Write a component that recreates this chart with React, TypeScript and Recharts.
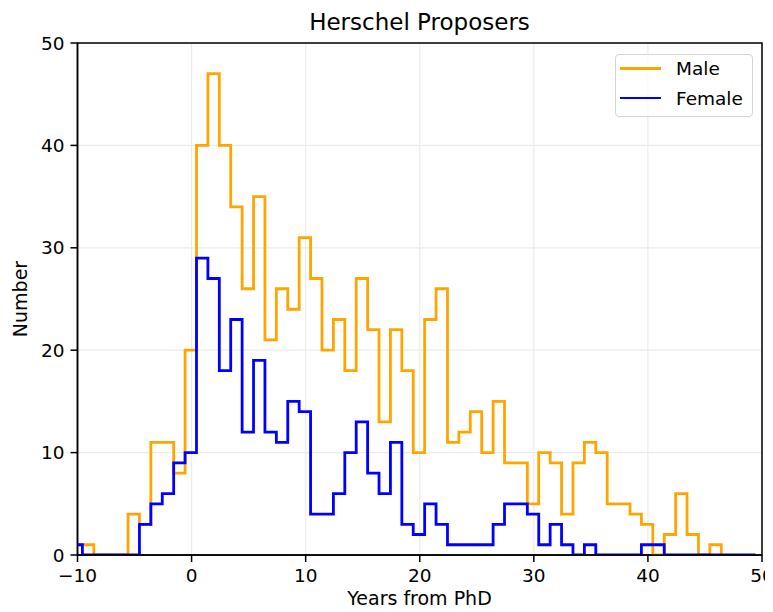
import React from "react";
import { LineChart, Line, XAxis, YAxis, CartesianGrid, ReferenceArea } from "recharts";

// histogram bins: 1 year wide, first left edge
const BIN_START = -10.57;
const BIN_WIDTH = 1;

const maleCounts = [
  1, 1, 0, 0, 0, 4, 3, 11, 11, 8,
  20, 40, 47, 40, 34, 26, 35, 21, 26, 24,
  31, 27, 20, 23, 18, 27, 22, 13, 22, 18,
  10, 23, 26, 11, 12, 14, 10, 15, 9, 9,
  5, 10, 9, 4, 9, 11, 10, 5, 5, 4,
  3, 0, 2, 6, 2, 0, 1,
];
const femaleCounts = [
  1, 0, 0, 0, 0, 0, 3, 5, 6, 9,
  10, 29, 27, 18, 23, 12, 19, 12, 11, 15,
  14, 4, 4, 6, 10, 13, 8, 6, 11, 3,
  2, 5, 3, 1, 1, 1, 1, 3, 5, 5,
  4, 1, 3, 1, 0, 1, 0, 0, 0, 0,
  1, 1, 0, 0, 0, 0, 0, 0, 0, 0,
];

const xTicks = [-10, 0, 10, 20, 30, 40, 50];
const yTicks = [0, 10, 20, 30, 40, 50];

const FONT = "DejaVu Sans";
const MALE = "#ffa500";
const FEMALE = "#0000ff";

// matplotlib-style step outline: rise from 0 at the first edge, fall to 0 at the last
function toSteps(counts: number[]) {
  const pts = [{ x: BIN_START, y: 0 }];
  counts.forEach((c, i) => pts.push({ x: BIN_START + i * BIN_WIDTH, y: c }));
  pts.push({ x: BIN_START + counts.length * BIN_WIDTH, y: 0 });
  return pts;
}

const maleData = toSteps(maleCounts);
const femaleData = toSteps(femaleCounts);

const tickStyle = { fill: "#000", fontSize: 18.5, fontFamily: FONT };
const fmt = (v: number) => String(v).replace("-", "\u2212");

export default function App() {
  return (
    <div style={{ position: "relative", width: 765, height: 604, fontFamily: FONT }}>
      {/* the figure runs to the window edge; keep scrollbars from eating the right side */}
      <style>{`html, body { overflow: hidden; } .recharts-surface, .recharts-wrapper { overflow: visible !important; }`}</style>
      <LineChart width={765} height={604} margin={{ top: 35, right: 11, bottom: 0, left: 0 }}>
        <CartesianGrid stroke="#ebebeb" strokeWidth={1.2} />
        <XAxis
          type="number" dataKey="x" domain={[-10, 50]} ticks={xTicks} allowDataOverflow interval={0}
          height={57} tick={tickStyle} tickFormatter={fmt}
          axisLine={{ stroke: "#000", strokeWidth: 1.5 }} tickLine={{ stroke: "#000", strokeWidth: 1.5 }}
          tickSize={7} tickMargin={7}
        />
        <YAxis
          type="number" dataKey="y" domain={[0, 50]} ticks={yTicks} allowDataOverflow interval={0}
          width={69.5} tick={tickStyle}
          axisLine={{ stroke: "#000", strokeWidth: 1.5 }} tickLine={{ stroke: "#000", strokeWidth: 1.5 }}
          tickSize={7} tickMargin={6}
        />
        <Line data={maleData} dataKey="y" type="stepAfter" stroke={MALE} strokeWidth={2.8}
          dot={false} activeDot={false} isAnimationActive={false} />
        <Line data={femaleData} dataKey="y" type="stepAfter" stroke={FEMALE} strokeWidth={2.8}
          dot={false} activeDot={false} isAnimationActive={false} />
        <ReferenceArea x1={-10} x2={50} y1={0} y2={50} fill="none" fillOpacity={0}
          stroke="#000" strokeWidth={1.5} strokeOpacity={1} />
        <text x={411.5} y={22} textAnchor="middle" fontSize={23} fontFamily={FONT} fill="#000">
          Herschel Proposers
        </text>
        <text x={411.5} y={597} textAnchor="middle" fontSize={19} fontFamily={FONT} fill="#000">
          Years from PhD
        </text>
        <text x={19} y={291} textAnchor="middle" fontSize={19} fontFamily={FONT} fill="#000"
          transform="rotate(-90 19 291)">
          Number
        </text>
      </LineChart>
      {/* legend box, upper right like matplotlib's loc="best" */}
      <div style={{
        position: "absolute", left: 607, top: 46, width: 138, height: 63, boxSizing: "border-box",
        border: "1.2px solid #d5d5d5", borderRadius: 4, background: "rgba(255,255,255,0.8)",
        fontSize: 18.5, color: "#000",
      }}>
        {[["Male", MALE], ["Female", FEMALE]].map(([name, color], i) => (
          <div key={name} style={{ position: "absolute", left: 4, top: 1.5 + i * 29.6, height: 24, display: "flex", alignItems: "center" }}>
            <div style={{ width: 41, height: 2.8, background: color }} />
            <span style={{ marginLeft: 15 }}>{name}</span>
          </div>
        ))}
      </div>
    </div>
  );
}
